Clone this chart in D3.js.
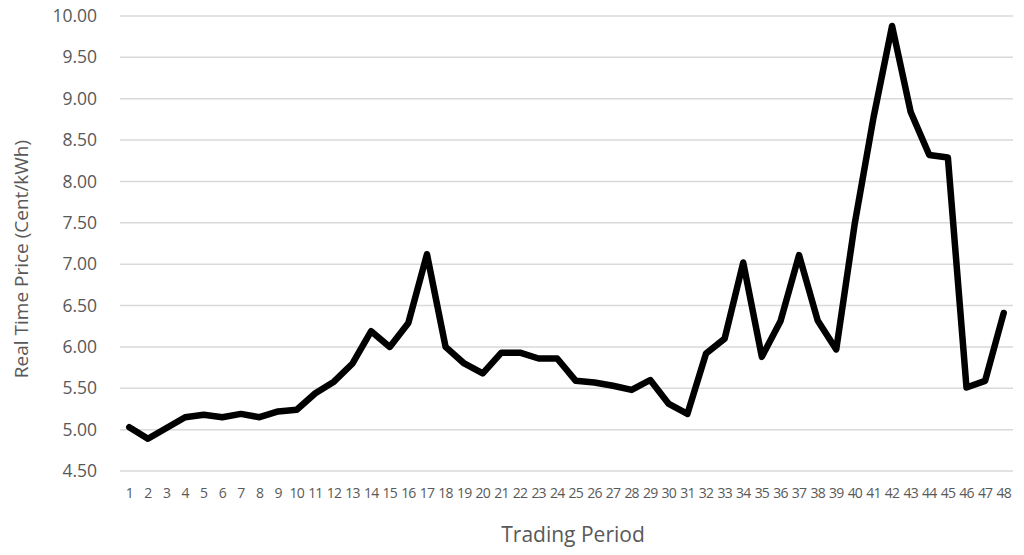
<!DOCTYPE html>
<html><head><meta charset="utf-8">
<script src="https://cdn.jsdelivr.net/npm/d3@7"></script>
<style>body{margin:0;background:#fff}svg{display:block}</style>
</head><body>
<svg id="c" width="1024" height="555"></svg>
<script>
const periods = d3.range(1, 49);
const prices = [5.03,4.89,5.02,5.15,5.18,5.15,5.19,5.15,5.22,5.24,5.44,5.58,5.80,6.19,6.00,6.29,7.12,6.00,5.80,5.68,5.93,5.93,5.86,5.86,5.59,5.57,5.53,5.48,5.60,5.31,5.19,5.92,6.10,7.02,5.88,6.31,7.11,6.32,5.97,7.50,8.77,9.88,8.84,8.32,8.29,5.51,5.59,6.41];
const yTicks = [4.5,5,5.5,6,6.5,7,7.5,8,8.5,9,9.5,10];
const xTitle = "Trading Period";
const yTitle = "Real Time Price (Cent/kWh)";

const svg = d3.select("#c");
const font = "'Open Sans', 'Liberation Sans', sans-serif";
const x = d3.scaleBand().domain(periods).range([120, 1013]);
const y = d3.scaleLinear().domain([4.5, 10]).range([471, 16]);

svg.append("g").selectAll("line").data(yTicks).join("line")
  .attr("x1", 120).attr("x2", 1013)
  .attr("y1", d => y(d)).attr("y2", d => y(d))
  .attr("stroke", "#d9d9d9").attr("stroke-width", 1.5);

svg.append("g").selectAll("text").data(yTicks).join("text")
  .attr("x", 97).attr("y", d => y(d)).attr("dy", "0.35em")
  .attr("text-anchor", "end").attr("fill", "#595959")
  .attr("font-family", font).attr("font-size", 17.5)
  .text(d => d.toFixed(2));

svg.append("g").selectAll("text").data(periods).join("text")
  .attr("x", d => x(d) + x.bandwidth() / 2).attr("y", 498)
  .attr("text-anchor", "middle").attr("fill", "#595959")
  .attr("font-family", font).attr("font-size", 14).attr("letter-spacing", "-0.8px")
  .text(d => d);

const line = d3.line().x((d, i) => x(periods[i]) + x.bandwidth() / 2).y(d => y(d));
svg.append("path").datum(prices).attr("d", line)
  .attr("fill", "none").attr("stroke", "#000").attr("stroke-width", 6.5)
  .attr("stroke-linejoin", "round").attr("stroke-linecap", "round");

svg.append("text").attr("x", 573).attr("y", 542).attr("text-anchor", "middle")
  .attr("fill", "#595959").attr("font-family", font).attr("font-size", 21).text(xTitle);
svg.append("text").attr("transform", "translate(28,259) rotate(-90)").attr("text-anchor", "middle")
  .attr("fill", "#595959").attr("font-family", font).attr("font-size", 19).text(yTitle);
</script>
</body></html>
